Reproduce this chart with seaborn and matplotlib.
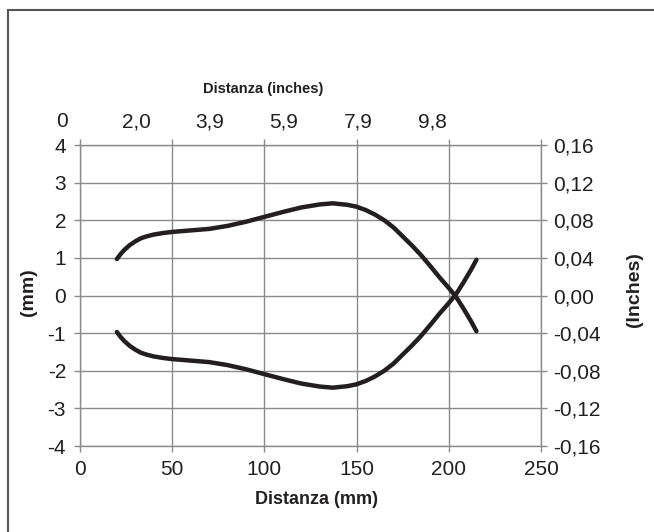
import pandas as pd
import matplotlib.pyplot as plt
import matplotlib.patches as patches
import seaborn as sns

# dati (mm)
dist_mm = [20, 22, 24, 27, 30, 33, 36, 40, 45, 50, 60, 70, 80, 90, 100, 110, 120, 130, 137,
           145, 150, 155, 160, 165, 170, 175, 180, 185, 190, 195, 200, 204, 208, 212, 215]
curva_sup = [0.97, 1.10, 1.21, 1.34, 1.44, 1.52, 1.57, 1.62, 1.66, 1.69, 1.73, 1.77, 1.85,
             1.96, 2.09, 2.22, 2.34, 2.42, 2.45, 2.41, 2.36, 2.27, 2.15, 2.00, 1.81, 1.57,
             1.33, 1.07, 0.78, 0.48, 0.20, -0.04, -0.35, -0.68, -0.95]
curva_inf = [-0.97, -1.10, -1.21, -1.34, -1.44, -1.52, -1.57, -1.62, -1.66, -1.69, -1.73, -1.77, -1.85,
             -1.96, -2.09, -2.22, -2.34, -2.42, -2.45, -2.41, -2.36, -2.27, -2.15, -2.00, -1.81, -1.57,
             -1.33, -1.07, -0.78, -0.48, -0.20, 0.04, 0.35, 0.68, 0.95]

x_ticks = [0, 50, 100, 150, 200, 250]
y_ticks = [-4, -3, -2, -1, 0, 1, 2, 3, 4]
inch_labels = ['0', '2,0', '3,9', '5,9', '7,9', '9,8']
y_inch_ticks = [-0.16, -0.12, -0.08, -0.04, 0.0, 0.04, 0.08, 0.12, 0.16]

df = pd.DataFrame({
    'mm': dist_mm + dist_mm,
    'val': curva_sup + curva_inf,
    'curva': ['sup'] * len(dist_mm) + ['inf'] * len(dist_mm),
})

sns.set_style("white")
plt.rcParams['font.family'] = ['Liberation Sans', 'DejaVu Sans']
plt.rcParams['axes.unicode_minus'] = False

grigio = '#8a8a8a'
nero = '#231f20'
fs_tick = 15

fig = plt.figure(figsize=(6.54, 5.32), dpi=100)
L, B, W, H = 80 / 654, 1 - 446 / 532, 461 / 654, 301 / 532
ax = fig.add_axes([L, B, W, H])

sns.lineplot(data=df, x='mm', y='val', hue='curva', palette=[nero, nero],
             linewidth=3.2, legend=False, sort=False, ax=ax)

ax.set_xlim(0, 250)
ax.set_ylim(-4, 4)
ax.set_xticks(x_ticks)
ax.set_yticks(y_ticks)
ax.grid(True, color=grigio, linewidth=1)
for s in ax.spines.values():
    s.set_color(grigio)
    s.set_linewidth(1)
ax.xaxis.set_ticks_position('both')
ax.tick_params(axis='both', direction='out', length=4, color=grigio, width=1,
               labelsize=fs_tick, labelcolor=nero)
ax.tick_params(axis='x', labeltop=False, pad=6)
ax.tick_params(axis='y', pad=6)

ax.set_xlabel('Distanza (mm)', fontsize=13, fontweight='bold', color=nero)
ax.xaxis.set_label_coords(0.512, -0.148)
ax.set_ylabel('(mm)', fontsize=14, fontweight='bold', color=nero)
ax.yaxis.set_label_coords(-0.093, 0.51)

# asse destro in pollici
ax2 = ax.twinx()
ax2.set_ylim(-0.16, 0.16)
ax2.set_yticks(y_inch_ticks)
ax2.set_yticklabels([f'{v:.2f}'.replace('.', ',') for v in y_inch_ticks])
ax2.tick_params(axis='y', direction='out', length=4, color=grigio, width=1,
                labelsize=fs_tick, labelcolor=nero, pad=5)
for s in ax2.spines.values():
    s.set_visible(False)
ax2.set_ylabel('(Inches)', fontsize=14, fontweight='bold', color=nero)
ax2.yaxis.set_label_coords(1.184, 0.52)

# etichette superiori (pollici)
ax3 = fig.add_axes([62 / 654, B, 370 / 654, H])
ax3.patch.set_visible(False)
for s in ax3.spines.values():
    s.set_visible(False)
ax3.set_xlim(0, len(inch_labels) - 1)
ax3.set_xticks(range(len(inch_labels)))
ax3.set_xticklabels(inch_labels)
ax3.xaxis.set_ticks_position('top')
ax3.tick_params(axis='x', length=0, labelsize=fs_tick, labelcolor=nero, pad=10)
ax3.set_yticks([])
fig.text(263 / 654, 1 - 89 / 532, 'Distanza (inches)', fontsize=10.5,
         fontweight='bold', color=nero, ha='center', va='center')

# cornice esterna
fig.patches.append(patches.Rectangle((8 / 654, -0.1), 1.0, 1.1 - 10 / 532,
                                     transform=fig.transFigure, fill=False,
                                     edgecolor='#555555', linewidth=1.5))

fig.savefig('out.png', dpi=100)
